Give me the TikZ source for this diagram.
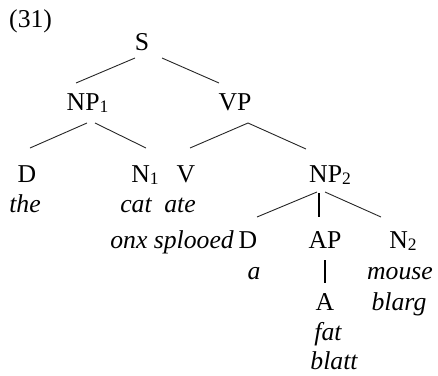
\documentclass[tikz,border=0pt]{standalone}
\usepackage{fontspec}
\setmainfont{Liberation Serif}
\usetikzlibrary{calc}
\newcommand\sbs[1]{\raisebox{-0.09em}{\fontsize{17.5}{17.5}\selectfont #1}}
\begin{document}
\begin{tikzpicture}[x=1pt,y=-1pt,
  lab/.style={anchor=base,inner sep=0pt,font=\fontsize{25.7}{30}\selectfont},
  lf/.style={lab,font=\fontsize{25.7}{30}\selectfont\itshape},
  br/.style={line width=0.9pt,draw=black!85},
  tk/.style={line width=2.6pt,draw=black}]
\useasboundingbox (0,0) rectangle (438,375);
\node[lab,anchor=base west] (num) at (9,27) {(31)};
\node[lab] (S) at (142,50) {S};
\node[lab] (NPa) at (87.5,110) {NP\sbs{1}};
\node[lab] (VP) at (235,110) {VP};
\node[lab] (Da) at (27,182) {D};
\node[lab] (Na) at (145,182) {N\sbs{1}};
\node[lab] (V) at (186,182) {V};
\node[lab] (NPb) at (330,182) {NP\sbs{2}};
\node[lf] (the) at (25,212) {the};
\node[lf] (cat) at (136,212) {cat};
\node[lf] (ate) at (180,212) {ate};
\node[lf,anchor=base east] (onx) at (234,248) {onx splooed};
\node[lab] (Db) at (248,248) {D};
\node[lab] (AP) at (325,248) {AP};
\node[lab] (Nb) at (403,248) {N\sbs{2}};
\node[lf] (a) at (254,279) {a};
\node[lf] (mouse) at (400,279) {mouse};
\node[lab] (A) at (325,310) {A};
\node[lf] (blarg) at (399,310) {blarg};
\node[lf] (fat) at (328,340) {fat};
\node[lf] (blatt) at (334,369.5) {blatt};
% branches
\draw[br] ($(S.base)+(-7,8)$) -- ($(NPa.base)+(-11.5,-27)$);
\draw[br] ($(S.base)+(20,8)$) -- ($(VP.base)+(-16,-27)$);
\draw[br] ($(NPa.base)+(-0.5,13)$) -- ($(Da.base)+(3,-34)$);
\draw[br] ($(NPa.base)+(7.5,13)$) -- ($(Na.base)+(1,-34)$);
\draw[br] ($(VP.base)+(13,13)$) -- ($(V.base)+(4,-34)$);
\draw[br] ($(VP.base)+(13,13)$) -- ($(NPb.base)+(-24,-33)$);
\draw[br] ($(NPb.base)+(-13,10)$) -- ($(Db.base)+(9,-31)$);
\draw[tk] ($(NPb.base)+(-11,11)$) -- ($(AP.base)+(-6,-31)$);
\draw[br] ($(NPb.base)+(-5,10)$) -- ($(Nb.base)+(-22,-31)$);
\draw[tk] ($(AP.base)+(0,12)$) -- ($(A.base)+(0,-27)$);
\end{tikzpicture}
\end{document}
